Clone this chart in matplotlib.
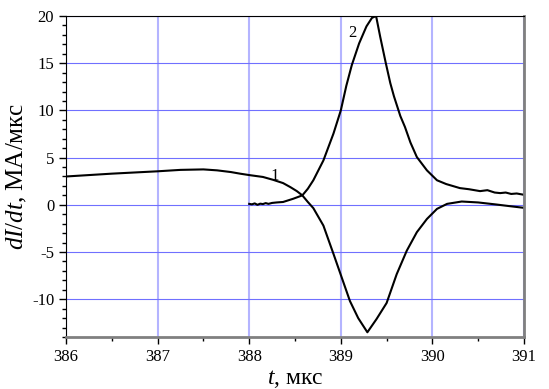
import matplotlib
matplotlib.use("Agg")
import matplotlib.pyplot as plt
from matplotlib.ticker import MultipleLocator

# --- data ---
t1 = [386.0, 386.5, 387.0, 387.25, 387.5, 387.65, 387.8, 387.9, 388.0, 388.15,
      388.26, 388.37, 388.45, 388.52, 388.58, 388.64, 388.70, 388.81, 388.92,
      389.01, 389.10, 389.19, 389.29, 389.39, 389.50, 389.61, 389.72, 389.83,
      389.94, 390.05, 390.16, 390.32, 390.5, 390.7, 390.85, 391.0]
v1 = [3.0, 3.3, 3.55, 3.7, 3.75, 3.65, 3.47, 3.3, 3.15, 2.95,
      2.65, 2.3, 1.87, 1.45, 1.0, 0.3, -0.35, -2.2, -5.2,
      -7.7, -10.2, -12.0, -13.5, -12.1, -10.4, -7.35, -4.86, -2.9,
      -1.5, -0.43, 0.1, 0.35, 0.25, 0.03, -0.15, -0.32]

t2 = [388.0, 388.03, 388.06, 388.09, 388.12, 388.15, 388.18, 388.21, 388.25,
      388.3, 388.37, 388.48, 388.58, 388.64, 388.70, 388.81, 388.92, 389.0,
      389.06, 389.12, 389.20, 389.28, 389.34, 389.385, 389.43, 389.49, 389.54,
      389.58, 389.65, 389.70, 389.76, 389.83, 389.94, 390.05, 390.15, 390.3,
      390.4, 390.52, 390.6, 390.68, 390.74, 390.8, 390.86, 390.92, 391.0]
v2 = [0.1, 0.05, 0.15, 0.0, 0.12, 0.08, 0.18, 0.1, 0.2,
      0.25, 0.3, 0.64, 1.0, 1.7, 2.6, 4.7, 7.55, 10.0,
      12.6, 14.8, 17.1, 18.9, 19.8, 20.0, 17.8, 15.06, 12.9,
      11.5, 9.4, 8.25, 6.6, 5.06, 3.65, 2.6, 2.2, 1.77,
      1.65, 1.45, 1.55, 1.3, 1.24, 1.3, 1.15, 1.2, 1.06]

curve_labels = [("1", 388.28, 3.1), ("2", 389.13, 18.2)]

plt.rcParams['font.family'] = ['Liberation Serif', 'DejaVu Serif']
plt.rcParams['axes.unicode_minus'] = False
plt.rcParams['mathtext.fontset'] = 'custom'
plt.rcParams['mathtext.it'] = 'Liberation Serif:italic'
plt.rcParams['mathtext.rm'] = 'Liberation Serif'

fig = plt.figure(figsize=(5.49, 3.89), dpi=100)
ax = fig.add_axes([0.1202, 0.1337, 0.8343, 0.8252])

ax.plot(t1, v1, color='black', lw=1.5)
ax.plot(t2, v2, color='black', lw=1.5)
for txt, x, y in curve_labels:
    ax.text(x, y, txt, fontsize=12, ha='center', va='center')

ax.set_xlim(386, 391)
ax.set_ylim(-14, 20)
ax.xaxis.set_major_locator(MultipleLocator(1))
ax.xaxis.set_minor_locator(MultipleLocator(0.5))
ax.yaxis.set_major_locator(MultipleLocator(5))
ax.yaxis.set_minor_locator(MultipleLocator(1))
ax.tick_params(which='both', direction='out', labelsize=12, width=1)
ax.tick_params(which='major', length=5)
ax.tick_params(which='minor', length=3)
ax.tick_params(top=False, right=False)
for lab in ax.get_xticklabels() + ax.get_yticklabels():
    lab.set_fontfamily('Liberation Serif')

ax.xaxis.grid(True, color='#b4b4ff', lw=1.5)
ax.yaxis.grid(True, color='#7070ff', lw=0.8)
ax.set_axisbelow(True)

ax.spines['top'].set_color('black')
ax.spines['left'].set_color('black')
ax.spines['bottom'].set_color('#808080')
ax.spines['right'].set_color('#808080')
ax.spines['bottom'].set_linewidth(2)
ax.spines['right'].set_linewidth(2)

ax.set_ylabel(r'$dI/dt$, МА/мкс', fontsize=18, labelpad=2)
ax.set_xlabel(r'$t$, мкс', fontsize=17, labelpad=2)

plt.savefig('out.png', dpi=100)
plt.close()
